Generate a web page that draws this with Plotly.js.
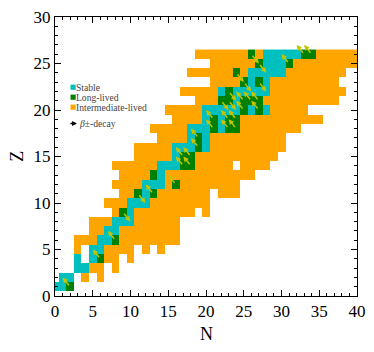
<!DOCTYPE html>
<html><head><meta charset="utf-8">
<script src="https://cdn.plot.ly/plotly-3.0.1.min.js"></script>
<style>html,body{margin:0;padding:0;background:#fff}#chart{width:374px;height:352px}</style>
</head><body><div id="chart"></div>
<script>
// Proton number rows and the neutron-number extent of known nuclides in each row
const Z_VALUES = [1,2,3,4,5,6,7,8,9,10,11,12,13,14,15,16,17,18,19,20,21,22,23,24,25,26];
const N_FIRST  = [0,1,3,3,3,3,5,5,8,7,9,8,9,8,11,11,14,13,16,15,19,17,21,18,21,19];
const N_LAST   = [2,6,8,10,14,16,16,16,20,20,24,24,26,28,29,30,30,32,35,33,37,38,37,38,40,40];
// cells inside a row's extent that are not in the chart [N, Z]
const GAPS = [[3,2],[5,2],[7,3],[4,4],[9,4],[4,5],[11,5],[13,5],[19,9],[21,11],[24,14]];
// category cells [N, Z]; all other cells of the rows are intermediate-lived
const STABLE = [[0,1],[1,1],[1,2],[2,2],[3,3],[4,3],[3,4],[5,4],[5,5],[6,5],[6,6],[7,6],[7,7],[8,7],
  [8,8],[9,8],[10,8],[10,9],[10,10],[11,10],[12,10],[12,11],[12,12],[13,12],[14,12],[14,13],
  [14,14],[15,14],[16,14],[16,15],[16,16],[17,16],[18,16],[20,16],[18,17],[20,17],
  [18,18],[19,18],[20,18],[22,18],[20,19],[22,19],[20,20],[21,20],[22,20],[23,20],[24,20],[26,20],[28,20],
  [24,21],[22,22],[24,22],[25,22],[26,22],[27,22],[28,22],[26,23],[28,23],
  [26,24],[27,24],[28,24],[29,24],[30,24],[28,25],[29,25],[30,25],[28,26],[29,26],[30,26],[31,26],[32,26]];
const LONG_LIVED = [[2,1],[6,4],[8,6],[9,9],[11,11],[13,11],[16,12],[13,13],[17,14],[18,14],[17,15],[18,15],
  [19,16],[19,17],[21,18],[23,18],[24,18],[21,19],[23,19],[24,19],[25,20],[27,20],
  [22,21],[23,21],[25,21],[26,21],[27,21],[23,22],[25,23],[27,23],[24,24],[27,25],[31,25],[26,26],[33,26],[34,26]];
// beta decays: minus goes to (N-1, Z+1), plus goes to (N+1, Z-1)
const BETA_MINUS = [[2,1],[6,4],[8,6],[13,11],[16,12],[17,14],[18,14],[17,15],[18,15],[19,16],[19,17],
  [21,18],[23,18],[24,18],[21,19],[23,19],[24,19],[25,20],[27,20],[25,21],[26,21],[27,21],[31,25],[33,26],[34,26]];
const BETA_PLUS = [[9,9],[11,11],[22,21],[23,21],[23,22],[25,23],[27,23],[24,24],[27,25],[26,26]];
const LEGEND_LABELS = ['Stable','Long-lived','Intermediate-lived'];
const LEGEND_COLORS = ['#00BFBF','#008000','#FFA500'];
const DECAY_LABEL = '<i>β</i>±-decay';
const X_TITLE = 'N', Y_TITLE = 'Z';

const NX = 41, NY = 27;
const xs = Array.from({length:NX},(_,i)=>i);
const ys = Array.from({length:NY},(_,i)=>i);
const z = ys.map(()=>xs.map(()=>null));
Z_VALUES.forEach((Z,i)=>{ for(let N=N_FIRST[i]; N<=N_LAST[i]; N++) z[Z][N]=1; });
GAPS.forEach(([N,Z])=>{ z[Z][N]=null; });
LONG_LIVED.forEach(([N,Z])=>{ z[Z][N]=2; });
STABLE.forEach(([N,Z])=>{ z[Z][N]=3; });

const heat = {type:'heatmap', x:xs, y:ys, z:z, zmin:1, zmax:3, showscale:false, hoverinfo:'skip',
  colorscale:[[0,'#FFA500'],[0.3333,'#FFA500'],[0.3334,'#008000'],[0.6666,'#008000'],[0.6667,'#00BFBF'],[1,'#00BFBF']]};

const ARROW_COLOR = '#c4c400';
const annotations = [];
function decayArrow(N,Z,N2,Z2){
  return {x:N2,y:Z2,ax:N,ay:Z,xref:'x',yref:'y',axref:'x',ayref:'y',text:'',showarrow:true,
    arrowhead:2,arrowsize:0.75,arrowwidth:1.4,arrowcolor:ARROW_COLOR,standoff:0,startstandoff:0};
}
BETA_MINUS.forEach(([N,Z])=>annotations.push(decayArrow(N,Z,N-1,Z+1)));
BETA_PLUS.forEach(([N,Z])=>annotations.push(decayArrow(N,Z,N+1,Z-1)));

// legend drawn in the upper-left of the axes
const LEG_N = 2.6, LEG_Z0 = 22.45, LEG_DZ = 1.075;
const shapes = [];
LEGEND_LABELS.forEach((lab,i)=>{
  const zz = LEG_Z0 - i*LEG_DZ;
  shapes.push({type:'rect',xref:'x',yref:'y',xsizemode:'pixel',ysizemode:'pixel',xanchor:2.4,yanchor:zz,
    x0:-2.6,x1:2.6,y0:-2.6,y1:2.6,fillcolor:LEGEND_COLORS[i],line:{width:0}});
  annotations.push({x:LEG_N,y:zz,xref:'x',yref:'y',xanchor:'left',yanchor:'middle',text:lab,showarrow:false,
    borderpad:0,font:{family:'Liberation Serif, serif',size:9.6,color:'#444'}});
});
annotations.push({x:2.9,y:18.55,ax:1.85,ay:18.55,xref:'x',yref:'y',axref:'x',ayref:'y',text:'',showarrow:true,
  arrowhead:2,arrowsize:0.6,arrowwidth:1.6,arrowcolor:'#000',standoff:0,startstandoff:0});
annotations.push({x:3.05,y:18.55,xref:'x',yref:'y',xanchor:'left',yanchor:'middle',text:DECAY_LABEL,showarrow:false,
  borderpad:0,font:{family:'Liberation Serif, serif',size:9.6,color:'#444'}});

// axis titles
const titleFont = {family:'Liberation Serif, serif',size:18,color:'#000'};
annotations.push({xref:'paper',yref:'paper',x:0.5,y:-0.136,xanchor:'center',yanchor:'middle',text:X_TITLE,
  showarrow:false,font:titleFont});
annotations.push({xref:'paper',yref:'paper',x:-0.128,y:0.5,xanchor:'center',yanchor:'middle',text:Y_TITLE,
  textangle:-90,showarrow:false,font:titleFont});

const axisFont = {family:'Liberation Serif, serif',size:17,color:'#000'};
const layout = {
  width:374,height:352,margin:{l:55,r:17,t:17,b:56},paper_bgcolor:'#fff',plot_bgcolor:'#fff',
  showlegend:false,
  xaxis:{range:[0,40],tickmode:'linear',tick0:0,dtick:5,ticks:'inside',ticklen:6,tickwidth:1,tickcolor:'#000',
    minor:{dtick:1,ticks:'inside',ticklen:3,tickwidth:1,tickcolor:'#000'},automargin:false,
    showline:true,linecolor:'#000',linewidth:1,mirror:'ticks',showgrid:false,zeroline:false,tickfont:axisFont},
  yaxis:{range:[0,30],tickmode:'linear',tick0:0,dtick:5,ticks:'inside',ticklen:6,tickwidth:1,tickcolor:'#000',
    minor:{dtick:1,ticks:'inside',ticklen:3,tickwidth:1,tickcolor:'#000'},automargin:false,
    showline:true,linecolor:'#000',linewidth:1,mirror:'ticks',showgrid:false,zeroline:false,tickfont:axisFont},
  annotations:annotations, shapes:shapes
};
Plotly.newPlot('chart',[heat],layout,{staticPlot:true,displayModeBar:false});
</script></body></html>
